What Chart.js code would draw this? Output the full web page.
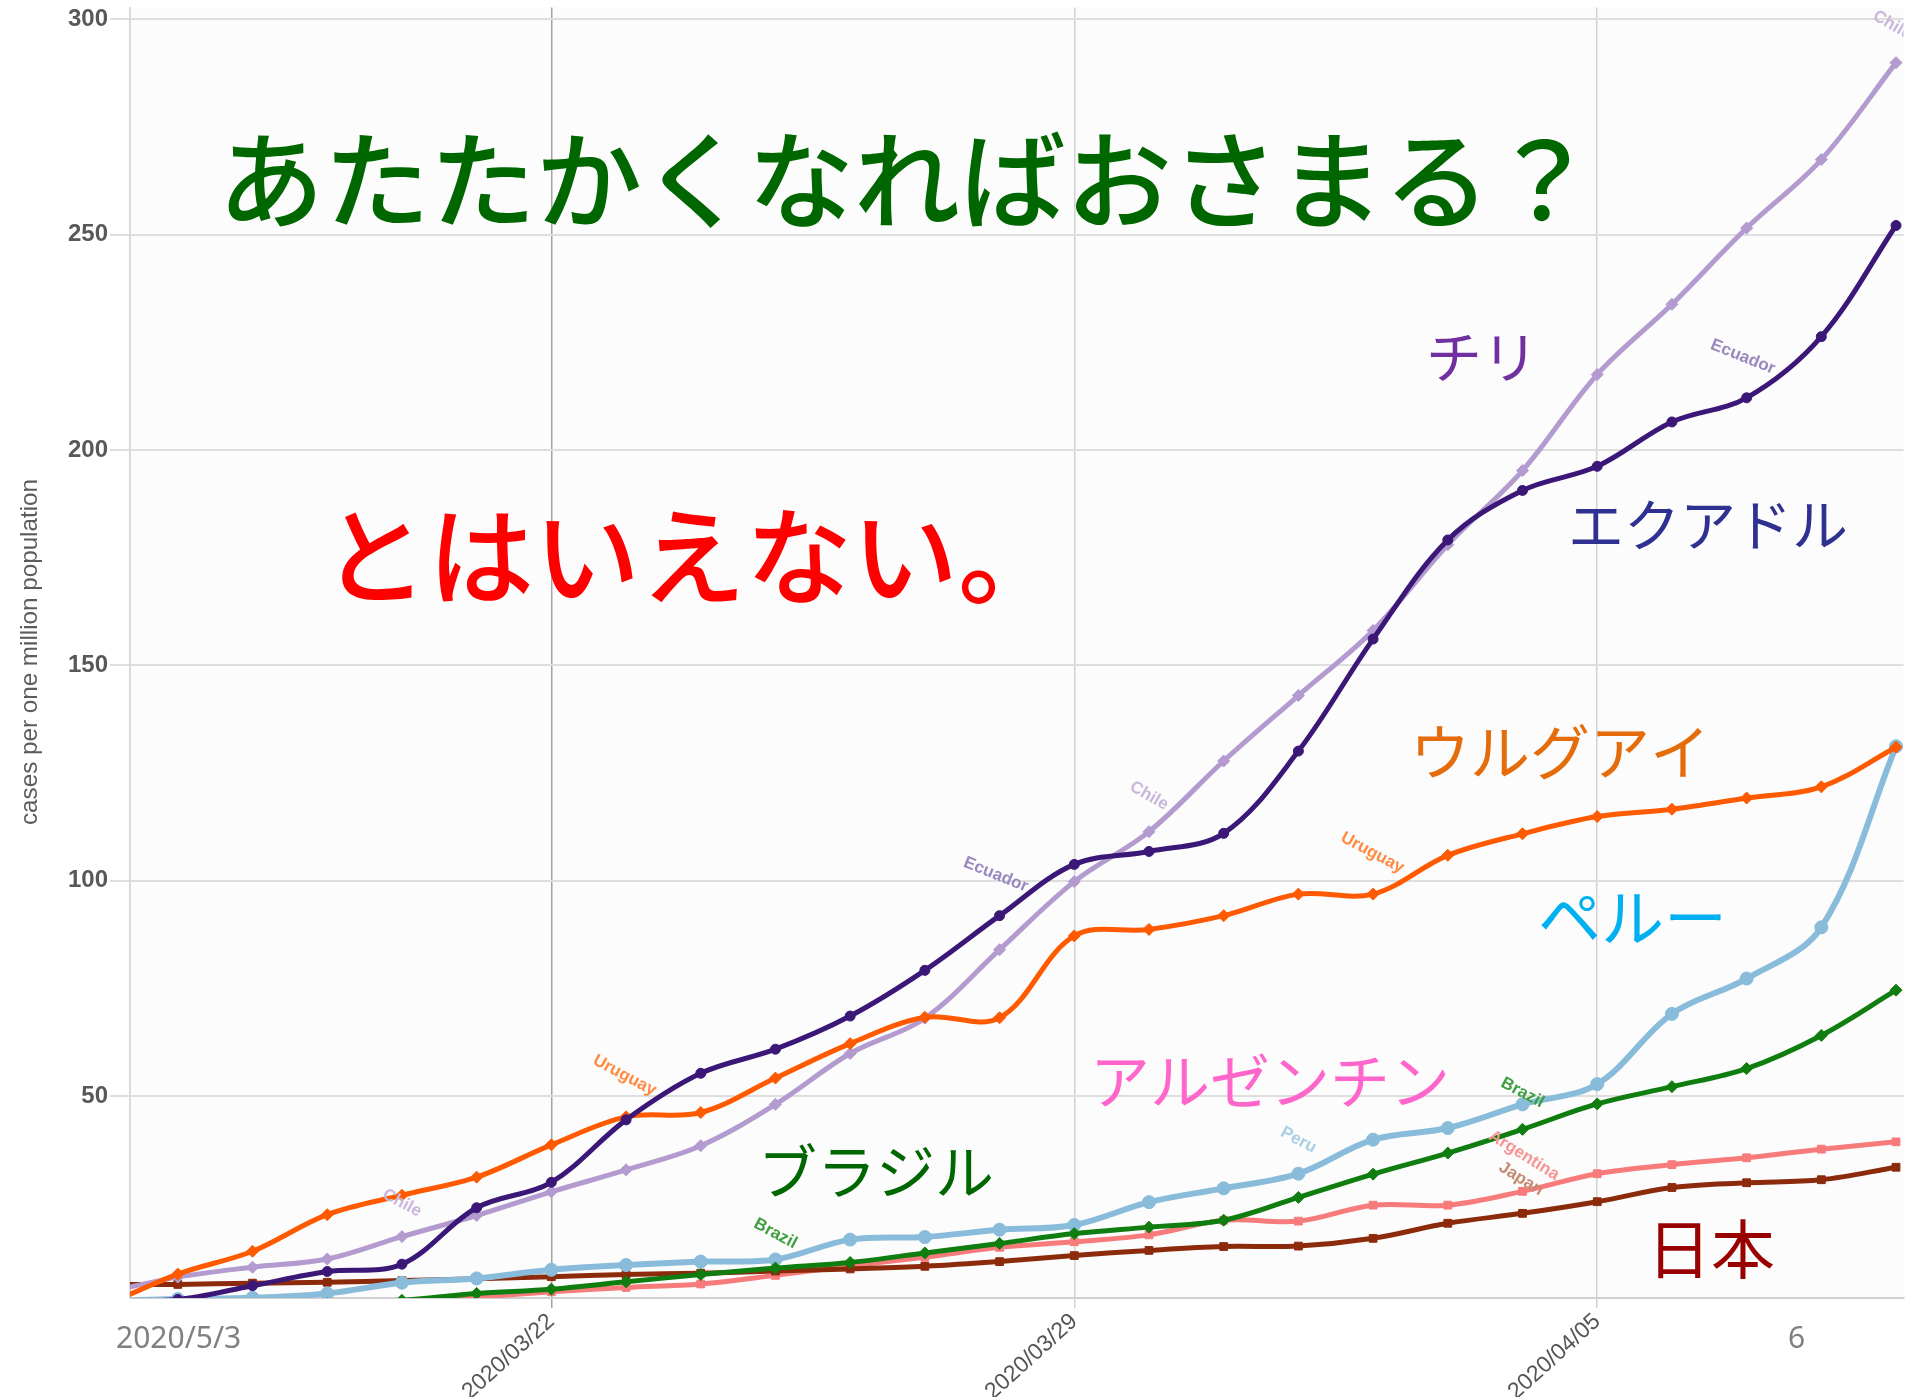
<!DOCTYPE html>
<html>
<head>
<meta charset="utf-8">
<script src="https://cdn.jsdelivr.net/npm/chart.js@4.4.0/dist/chart.umd.min.js"></script>
<style>
  html, body { margin: 0; padding: 0; background: #ffffff; }
  #wrap { width: 1911px; height: 1397px; position: relative; }
</style>
</head>
<body>
<div id="wrap"><canvas id="c" width="1911" height="1397"></canvas></div>
<script>
// ---------- data ----------
const dates = ['2020/03/16','2020/03/17','2020/03/18','2020/03/19','2020/03/20','2020/03/21','2020/03/22',
  '2020/03/23','2020/03/24','2020/03/25','2020/03/26','2020/03/27','2020/03/28','2020/03/29',
  '2020/03/30','2020/03/31','2020/04/01','2020/04/02','2020/04/03','2020/04/04','2020/04/05',
  '2020/04/06','2020/04/07','2020/04/08','2020/04/09'];
const tickDates = ['2020/03/22', '2020/03/29', '2020/04/05'];
const yTickValues = [50, 100, 150, 200, 250, 300];

const ecuador   = [2.6, 2.8, 6.0, 9.3, 11.0, 24.1, 30.0, 44.5, 55.3, 60.9, 68.6, 79.2, 91.9, 103.8, 106.8, 111.0, 130.1, 156.1, 179.1, 190.6, 196.2, 206.5, 212.1, 226.3, 252.1];
const uruguay   = [1.2, 8.7, 14.0, 22.5, 27.0, 31.2, 38.7, 45.2, 46.2, 54.2, 62.2, 68.3, 68.2, 87.2, 88.7, 91.9, 96.9, 96.9, 105.9, 110.9, 114.9, 116.6, 119.2, 121.8, 131.0];
const chile     = [4.3, 8.0, 10.3, 12.2, 17.4, 22.3, 27.8, 32.9, 38.5, 48.1, 59.9, 68.1, 84.0, 99.8, 111.4, 127.8, 143.0, 158.1, 178.0, 195.2, 217.5, 233.8, 251.5, 267.4, 289.9];
const brazil    = [0.5, 0.8, 1.2, 1.8, 2.6, 4.2, 5.2, 6.9, 8.6, 10.1, 11.4, 13.6, 15.8, 18.1, 19.6, 21.2, 26.5, 31.9, 36.8, 42.3, 48.2, 52.2, 56.4, 64.1, 74.6];
const peru      = [2.4, 2.9, 3.2, 4.2, 6.7, 7.7, 9.7, 10.8, 11.6, 12.1, 16.7, 17.3, 19.0, 20.1, 25.4, 28.6, 32.0, 39.9, 42.6, 48.1, 52.8, 69.1, 77.3, 89.2, 131.2];
const japan     = [6.3, 6.3, 6.6, 6.8, 7.2, 7.6, 8.1, 8.6, 8.9, 9.4, 9.9, 10.5, 11.6, 13.0, 14.2, 15.1, 15.2, 17.0, 20.5, 22.8, 25.5, 28.8, 29.9, 30.6, 33.5];
const argentina = [0.3, 0.5, 0.8, 1.2, 2.0, 3.3, 4.6, 5.6, 6.4, 8.4, 10.6, 12.6, 14.9, 16.2, 17.8, 21.2, 21.0, 24.7, 24.7, 27.9, 32.0, 34.1, 35.7, 37.7, 39.4];

// ---------- styles ----------
const seriesStyle = [
  { label: 'Ecuador',   values: ecuador,   color: '#3b1878', point: 'circle',  radius: 5,   width: 5 },
  { label: 'Uruguay',   values: uruguay,   color: '#ff5a00', point: 'rectRot', radius: 6,   width: 5 },
  { label: 'Chile',     values: chile,     color: '#b39bcf', point: 'rectRot', radius: 6,   width: 5 },
  { label: 'Brazil',    values: brazil,    color: '#0f7d0f', point: 'rectRot', radius: 6,   width: 5 },
  { label: 'Peru',      values: peru,      color: '#88bcda', point: 'circle',  radius: 6.5, width: 6 },
  { label: 'Japan',     values: japan,     color: '#8c2b0c', point: 'rect',    radius: 5.5, width: 5 },
  { label: 'Argentina', values: argentina, color: '#f77b7b', point: 'rect',    radius: 5.5, width: 5 }
];

// in-line series labels (anchored in data space: day index, value)
const lineLabels = [
  { text: 'Chile',     day: 4.0,   value: 25.2,  angle: 28, color: '#c9b7dc' },
  { text: 'Chile',     day: 14.0,  value: 119.7, angle: 30, color: '#c9b7dc' },
  { text: 'Chile',     day: 23.95, value: 298.6, angle: 30, color: '#c9b7dc' },
  { text: 'Ecuador',   day: 11.95, value: 101.4, angle: 22, color: '#9a89bd' },
  { text: 'Ecuador',   day: 21.95, value: 221.6, angle: 22, color: '#9a89bd' },
  { text: 'Uruguay',   day: 6.98,  value: 54.8,  angle: 28, color: '#ff8a40' },
  { text: 'Uruguay',   day: 16.99, value: 106.5, angle: 28, color: '#ff8a40' },
  { text: 'Brazil',    day: 9.0,   value: 18.1,  angle: 28, color: '#3d9f3d' },
  { text: 'Brazil',    day: 19.0,  value: 50.8,  angle: 28, color: '#3d9f3d' },
  { text: 'Peru',      day: 16.0,  value: 39.8,  angle: 28, color: '#a9cfe6' },
  { text: 'Argentina', day: 19.02, value: 36.2,  angle: 32, color: '#f79595' },
  { text: 'Japan',     day: 18.98, value: 30.8,  angle: 32, color: '#c48a72' }
];

// overlay annotations (pixel placement on the picture)
const CJK = '"Noto Sans CJK JP", "Noto Sans CJK SC", sans-serif';
const annotations = [
  { text: 'あたたかくなればおさまる？', x: 218,  y: 180,  size: 106, weight: 500, color: '#006600' },
  { text: 'とはいえない。',             x: 322,  y: 556,  size: 106, weight: 500, color: '#ff0000' },
  { text: 'チリ',                       x: 1426, y: 357,  size: 56,  weight: 400, color: '#7030a0' },
  { text: 'エクアドル',                 x: 1568, y: 525,  size: 56,  weight: 400, color: '#2e3192' },
  { text: 'ウルグアイ',                 x: 1410, y: 752,  size: 60,  weight: 400, color: '#e46c0a' },
  { text: 'ペルー',                     x: 1538, y: 917,  size: 63,  weight: 400, color: '#00b0f0' },
  { text: 'アルゼンチン',               x: 1090, y: 1081, size: 60,  weight: 400, color: '#ff66cc' },
  { text: 'ブラジル',                   x: 758,  y: 1172, size: 59,  weight: 400, color: '#006600' },
  { text: '日本',                       x: 1647, y: 1249, size: 64,  weight: 400, color: '#990000' }
];
const axisNotes = [
  { text: '2020/5/3', x: 116,  y: 1339 },
  { text: '6',        x: 1788, y: 1339 }
];
const yTitle = 'cases per one million population';

// ---------- plugins ----------
const bgPlugin = {
  id: 'bg',
  beforeDraw(chart) {
    const { ctx, chartArea: a } = chart;
    ctx.save();
    ctx.fillStyle = '#fcfcfc';
    ctx.fillRect(a.left, a.top, a.right - a.left, a.bottom - a.top);
    ctx.restore();
  }
};

const lineLabelPlugin = {
  id: 'lineLabels',
  afterDatasetsDraw(chart) {
    const { ctx, chartArea: a, scales } = chart;
    ctx.save();
    ctx.beginPath();
    ctx.rect(a.left, a.top, a.right - a.left, a.bottom - a.top);
    ctx.clip();
    ctx.font = 'bold 17px "Liberation Sans", Arial, sans-serif';
    ctx.textAlign = 'center';
    ctx.textBaseline = 'middle';
    for (const l of lineLabels) {
      ctx.save();
      ctx.translate(scales.x.getPixelForValue(l.day), scales.y.getPixelForValue(l.value));
      ctx.rotate(l.angle * Math.PI / 180);
      ctx.fillStyle = l.color;
      ctx.fillText(l.text, 0, 0);
      ctx.restore();
    }
    ctx.restore();
  }
};

const overlayPlugin = {
  id: 'overlay',
  afterDraw(chart) {
    const ctx = chart.ctx;
    // y axis title
    ctx.save();
    ctx.translate(30, 652);
    ctx.rotate(-Math.PI / 2);
    ctx.font = '24px "Liberation Sans Narrow", "Liberation Sans", Arial, sans-serif';
    ctx.fillStyle = '#5c5c5c';
    ctx.textAlign = 'center';
    ctx.textBaseline = 'middle';
    const w = ctx.measureText(yTitle).width;
    ctx.scale(346 / w, 1);
    ctx.fillText(yTitle, 0, 0);
    ctx.restore();

    // gray axis notes
    ctx.save();
    ctx.font = '30px "Noto Sans", "DejaVu Sans", sans-serif';
    ctx.fillStyle = '#808080';
    ctx.textAlign = 'left';
    ctx.textBaseline = 'middle';
    for (const n of axisNotes) ctx.fillText(n.text, n.x, n.y);
    ctx.restore();

    // Japanese annotations
    ctx.save();
    ctx.textAlign = 'left';
    ctx.textBaseline = 'middle';
    for (const t of annotations) {
      ctx.font = t.weight + ' ' + t.size + 'px ' + CJK;
      ctx.fillStyle = t.color;
      ctx.fillText(t.text, t.x, t.y);
    }
    ctx.restore();
  }
};

// ---------- chart ----------
const datasets = seriesStyle.map(s => ({
  label: s.label,
  data: s.values.map((v, i) => ({ x: i, y: v })),
  borderColor: s.color,
  backgroundColor: s.color,
  pointBackgroundColor: s.color,
  pointBorderColor: s.color,
  pointStyle: s.point,
  pointRadius: s.radius,
  pointBorderWidth: 1,
  borderWidth: s.width,
  tension: 0.35,
  fill: false,
  clip: 0
}));

const darkTick = dates.indexOf('2020/03/22');

new Chart(document.getElementById('c'), {
  type: 'line',
  data: { datasets },
  plugins: [bgPlugin, lineLabelPlugin, overlayPlugin],
  options: {
    responsive: false,
    animation: false,
    events: [],
    layout: { padding: { left: 0, right: 4, top: 4, bottom: 0 } },
    plugins: { legend: { display: false }, tooltip: { enabled: false } },
    scales: {
      x: {
        type: 'linear',
        min: 0.36,
        max: 24.1,
        afterBuildTicks: s => { s.ticks = tickDates.map(d => ({ value: dates.indexOf(d) })); },
        afterFit: s => { s.height = 99; s.paddingLeft = 0; s.paddingRight = 0; },
        ticks: {
          autoSkip: false,
          minRotation: 42,
          maxRotation: 42,
          padding: 0,
          color: '#555555',
          font: { family: '"Liberation Sans", Arial, sans-serif', size: 23 },
          callback: v => dates[Math.round(v)]
        },
        grid: {
          color: c => (c.tick && c.tick.value === darkTick) ? '#a4a4a4' : '#d2d2d2',
          lineWidth: 1.5,
          tickLength: 10,
          drawTicks: true
        },
        border: { display: true, color: '#cfcfcf', width: 2 }
      },
      y: {
        type: 'linear',
        min: 3.15,
        max: 302.7,
        afterBuildTicks: s => { s.ticks = yTickValues.map(v => ({ value: v })); },
        afterFit: s => { s.width = 130; s.paddingTop = 0; s.paddingBottom = 0; },
        ticks: {
          padding: 2,
          color: '#585858',
          font: { family: '"Liberation Sans", Arial, sans-serif', size: 24, weight: 'bold' }
        },
        grid: { color: '#dedede', lineWidth: 2, tickLength: 20 },
        border: { display: true, color: '#d9d9d9', width: 2 }
      }
    }
  }
});
</script>
</body>
</html>
